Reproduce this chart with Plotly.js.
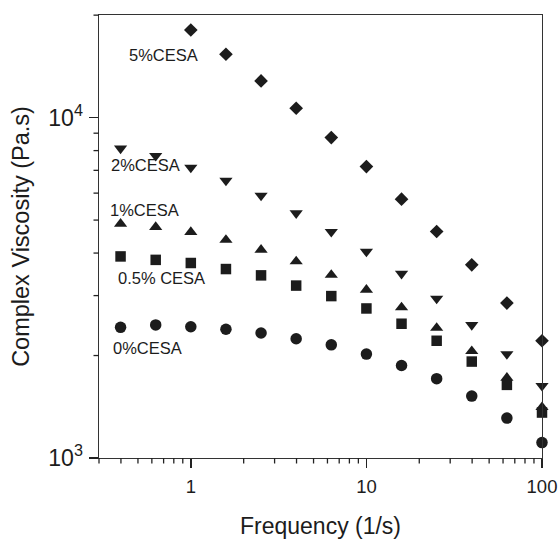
<!DOCTYPE html>
<html>
<head>
<meta charset="utf-8">
<script src="https://cdn.plot.ly/plotly-3.0.1.min.js"></script>
<style>html,body{margin:0;padding:0;background:#fff;}#chart{width:560px;height:539px;}</style>
</head>
<body>
<div id="chart"></div>
<script>
// Frequency (1/s)
const freq = [0.398, 0.631, 1, 1.585, 2.512, 3.981, 6.31, 10, 15.85, 25.12, 39.81, 63.1, 100];
const freq5 = [1, 1.585, 2.512, 3.981, 6.31, 10, 15.85, 25.12, 39.81, 63.1, 100];
// Complex viscosity (Pa.s)
const visc0  = [2420, 2460, 2430, 2390, 2330, 2240, 2150, 2020, 1870, 1710, 1520, 1310, 1110];
const visc05 = [3910, 3820, 3740, 3590, 3440, 3210, 2990, 2750, 2480, 2210, 1920, 1640, 1360];
const visc1  = [4875, 4770, 4610, 4370, 4090, 3780, 3450, 3120, 2770, 2410, 2060, 1720, 1410];
const visc2  = [8120, 7720, 7130, 6530, 5900, 5240, 4620, 4040, 3480, 2940, 2460, 2020, 1630];
const visc5  = [18090, 15350, 12815, 10656, 8737, 7180, 5760, 4627, 3694, 2852, 2210];
const seriesLabels = ['0%CESA', '0.5% CESA', '1%CESA', '2%CESA', '5%CESA'];

const ink = '#1c1c1c';
const font = 'Liberation Sans, Arial, sans-serif';
const xRange = [Math.log10(0.3), 2];
const yRange = [3, Math.log10(20020)];

// minor tick positions (non-decade digits within range)
function minorTicks(lo, hi) {
  const out = [];
  for (let p = Math.floor(Math.log10(lo)); p <= Math.ceil(Math.log10(hi)); p++) {
    for (let d = 2; d <= 9; d++) {
      const v = d * Math.pow(10, p);
      if (v >= lo * 0.999 && v <= hi * 1.001) out.push(v);
    }
  }
  return out;
}

function tr(x, y, sym, size) {
  return {x: x, y: y, type: 'scatter', mode: 'markers',
    marker: {symbol: sym, size: size, color: ink, line: {width: 0}},
    showlegend: false, hoverinfo: 'x+y', cliponaxis: false};
}
const data = [
  tr(freq, visc0, 'circle', 11.5),
  tr(freq, visc05, 'square', 10.5),
  tr(freq, visc1, 'triangle-up', 11.5),
  tr(freq, visc2, 'triangle-down', 11.5),
  tr(freq5, visc5, 'diamond', 10.5)
];

const labelPos = [[0.109, 0.248], [0.1405, 0.407], [0.103, 0.560], [0.105, 0.662], [0.1455, 0.910]];
const annotations = seriesLabels.map((t, i) => ({
  text: t, xref: 'paper', yref: 'paper', x: labelPos[i][0], y: labelPos[i][1],
  xanchor: 'center', yanchor: 'middle', showarrow: false,
  font: {family: font, size: 16.5, color: ink}
}));

// minor ticks: short outside strokes placed from the axis ranges (log scale fraction)
const M = {l: 99, r: 18, t: 15, b: 81};
const plotH = 539 - M.t - M.b, plotW = 560 - M.l - M.r;
const minorLen = 5.5;
const frac = (v, r) => (Math.log10(v) - r[0]) / (r[1] - r[0]);
const tickCol = '#222';
const shapes = [];
minorTicks(0.3, 100).forEach(v => shapes.push({
  type: 'line', layer: 'above', xref: 'paper', yref: 'paper', x0: frac(v, xRange), x1: frac(v, xRange),
  y0: 0, y1: -minorLen / plotH, line: {color: tickCol, width: 1.3}
}));
minorTicks(1000, 20020).forEach(v => shapes.push({
  type: 'line', layer: 'above', xref: 'paper', yref: 'paper', y0: frac(v, yRange), y1: frac(v, yRange),
  x0: 0, x1: -minorLen / plotW, line: {color: tickCol, width: 1.3}
}));

const axisCommon = {
  type: 'log', showgrid: false, zeroline: false, showline: true, mirror: true,
  linecolor: '#333', linewidth: 1.4, ticks: 'outside', ticklen: 9, tickwidth: 1.5,
  tickcolor: tickCol, dtick: 1,
  tickfont: {family: font, size: 18.5, color: ink}
};

const layout = {
  width: 560, height: 539,
  margin: M,
  paper_bgcolor: '#fff', plot_bgcolor: '#fff',
  xaxis: Object.assign({}, axisCommon, {
    range: xRange, ticklabelstandoff: 2,
    title: {text: 'Frequency (1/s)', font: {family: font, size: 23, color: ink}, standoff: 24}
  }),
  yaxis: Object.assign({}, axisCommon, {
    range: yRange, ticklabelstandoff: 2,
    exponentformat: 'power',
    title: {text: 'Complex Viscosity (Pa.s)', font: {family: font, size: 23.5, color: ink}, standoff: 12}
  }),
  shapes: shapes,
  annotations: annotations
};

Plotly.newPlot('chart', data, layout, {displayModeBar: false, staticPlot: true});
</script>
</body>
</html>
